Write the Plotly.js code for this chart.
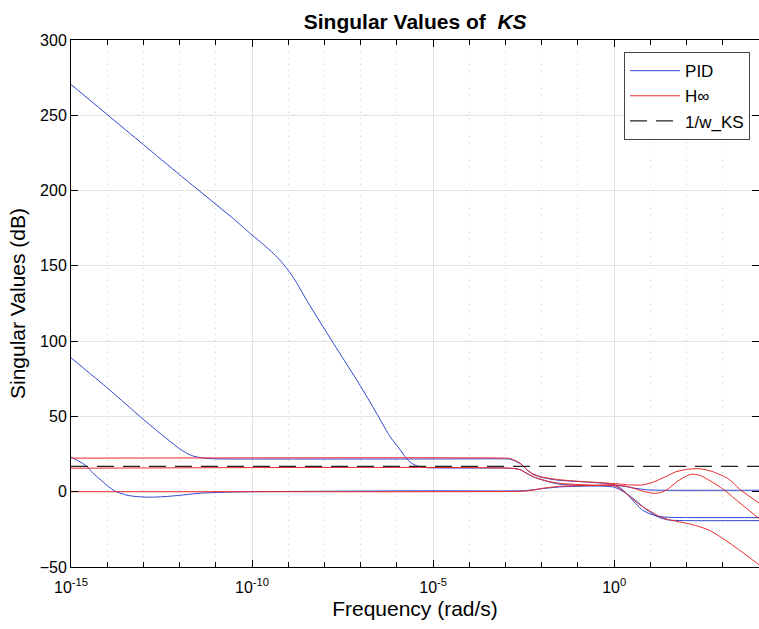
<!DOCTYPE html>
<html>
<head>
<meta charset="utf-8">
<script src="https://cdn.plot.ly/plotly-3.0.1.min.js"></script>
<style>html,body{margin:0;padding:0;background:#fff;}#chart{width:759px;height:629px;}</style>
</head>
<body>
<div id="chart"></div>
<script>
// log10(frequency) and singular values (dB)
const pid1LogW = [-15,-14,-13,-12,-11.44,-10.5,-10,-9.7,-9.4,-9.2,-9.0,-8.8,-8.5,-8,-7.5,-7,-6.5,-6.2,-5.9,-5.75,-5.6,-5.45,-5.25,-5,-3,-2.8,-2.6,-2.4,-2.2,-2.05,-1.8,-1.5,-1,-0.4,0,0.3,0.6,0.9,1.24,1.5,2,4];
const pid1Db   = [270.5,250.5,230.5,210.5,199.5,181,170.5,164.5,158,153,147,140,127.5,108,89,70,49.5,37,27.5,22.5,19,17.2,16.1,15.8,15.7,15.5,14.7,12,9.5,8.3,6.5,5,4.3,3.9,3,-0.5,-6,-12,-17,-18.8,-19.2,-19.2];

const pid2LogW = [-15,-14.5,-14,-13.5,-13,-12.5,-12,-11.8,-11.6,-11.3,-11,-9,-6,-4,-3,-2.86,-2.6,-2.4,-2.24,-2,-1.6,-1.2,-0.87,-0.4,-0.05,0.2,0.41,0.6,0.8,0.97,1.2,1.5,2,4];
const pid2Db   = [89,79,69,58.5,48,38,28.5,25.5,23.5,22.2,21.8,21.7,21.7,21.8,21.8,21.5,18.8,14.3,11.5,9.5,7.8,7,6.6,5.8,5,2,-3,-8,-12.5,-14.5,-16.3,-17,-17.2,-17.2];

const pid3LogW = [-15,-14.8,-14.57,-14.4,-14.2,-14,-13.79,-13.46,-13.2,-12.9,-12.6,-12.27,-12,-11.44,-10.7,-10,-8,-5,-3,-2.42,-2,-1.5,-1,-0.4,0,0.3,0.6,0.9,1.2,4];
const pid3Db   = [23,20.5,17,12.5,8.3,4,0.5,-2.3,-3.2,-3.6,-3.5,-3,-2.4,-1,-0.3,0,0.3,0.6,0.5,0.8,2,3.2,3.6,3.9,4.2,3.5,2.2,1.3,1,1];

const hinf1LogW = [-15,-3,-2.86,-2.6,-2.4,-2.24,-2,-1.6,-1.2,-0.9,-0.5,0,0.4,0.75,1.05,1.4,1.7,2,2.35,2.7,3,3.17,3.5,4];
const hinf1Db   = [22.3,22.3,22,19,14.5,11.8,9.8,8.2,7.3,6.8,6.2,5.4,4.6,4.4,6.1,9.8,13.2,14.8,15.3,13.5,10.5,8.3,1,-7.5];

const hinf2LogW = [-15,-2.8,-2.6,-2.4,-2.2,-2.05,-1.8,-1.5,-1.33,-1,-0.5,0,0.2,0.41,0.7,1,1.24,1.5,1.8,2.07,2.3,2.62,2.9,3.17,3.5,4];
const hinf2Db   = [15.6,15.5,14.6,12,9.6,8.4,6.8,5.5,5.2,4.8,4.3,4,1.5,-2.8,-8.5,-13,-16.3,-18.5,-20,-21.3,-22.8,-25.5,-29.5,-33.8,-39.5,-48.5];

const hinf3LogW = [-15,-3,-2.6,-2.42,-2.2,-2,-1.5,-1,-0.5,0,0.3,0.6,0.85,1.1,1.3,1.5,1.75,2,2.15,2.35,2.6,2.9,3.05,3.3,3.6,4];
const hinf3Db   = [0,0.1,0.3,0.5,1.2,2.2,3.6,4,4.2,4.6,3.8,1.8,0,-1.1,-0.5,2,7,10.5,11.6,11,8,3.5,1,-4,-10,-17.8];

const boundLogW = [-15,4];
const boundDb   = [16.8,16.8];

const xTickLogs  = [-15,-10,-5,0];
const xTickText  = ['10<sup>-15</sup>','10<sup>-10</sup>','10<sup>-5</sup>','10<sup>0</sup>'];
const xMinorLogs = [-15,-14,-13,-12,-11,-10,-9,-8,-7,-6,-5,-4,-3,-2,-1,0,1,2,3,4];

const toFreq = a => a.map(v => Math.pow(10, v));

const blue = 'rgb(45,70,210)';
const red = 'rgb(235,40,40)';
const font = 'Liberation Sans, Arial, Helvetica, sans-serif';

function tr(lw, db, color, name, show, group, dash) {
  return {x: toFreq(lw), y: db, type: 'scatter', mode: 'lines', name: name,
    legendgroup: group, showlegend: show,
    line: {color: color, width: dash ? 1.3 : 1, dash: dash || 'solid', shape: dash ? 'linear' : 'spline', smoothing: 0.6}};
}

const data = [
  tr(pid1LogW, pid1Db, blue, 'PID', true, 'pid'),
  tr(pid2LogW, pid2Db, blue, 'PID', false, 'pid'),
  tr(pid3LogW, pid3Db, blue, 'PID', false, 'pid'),
  tr(hinf1LogW, hinf1Db, red, 'H\u221E', true, 'hinf'),
  tr(hinf2LogW, hinf2Db, red, 'H\u221E', false, 'hinf'),
  tr(hinf3LogW, hinf3Db, red, 'H\u221E', false, 'hinf'),
  tr(boundLogW, boundDb, '#222', '1/w_KS', true, 'bound', '17px,9px')
];

const layout = {
  width: 759, height: 629,
  margin: {l: 71, r: 0, t: 40, b: 62},
  paper_bgcolor: '#fff', plot_bgcolor: '#fff',
  font: {family: font, color: '#000', size: 15},
  title: {text: '<b>Singular Values of  <i>KS</i></b>', x: 0.547, xanchor: 'center', y: 0.966, yanchor: 'middle', font: {size: 21, family: font}},
  xaxis: {
    type: 'log', range: [-15, 4],
    tickmode: 'array', tickvals: toFreq(xTickLogs), ticktext: xTickText,
    ticks: 'inside', ticklen: 7, tickcolor: '#000', tickwidth: 1,
    ticklabelstandoff: 6,
    showline: true, linecolor: '#000', linewidth: 1, mirror: 'ticks',
    showgrid: true, gridcolor: '#e3e3e3', gridwidth: 1,
    zeroline: false,
    minor: {tickmode: 'array', tickvals: toFreq(xMinorLogs), ticks: 'inside', ticklen: 5, tickcolor: '#000', showgrid: true, gridcolor: '#cfcfcf', griddash: '1px,5px', gridwidth: 1},
    tickfont: {size: 16},
    title: {text: 'Frequency (rad/s)', font: {size: 21}, standoff: 6}
  },
  yaxis: {
    range: [-50, 300], dtick: 50, tick0: 0,
    ticks: 'inside', ticklen: 7, tickcolor: '#000',
    showline: true, linecolor: '#000', linewidth: 1, mirror: 'ticks',
    showgrid: true, gridcolor: '#e3e3e3', zeroline: false,
    tickfont: {size: 16},
    title: {text: 'Singular Values (dB)', font: {size: 21}, standoff: 8}
  },
  legend: {
    x: 0.987, xanchor: 'right', y: 0.977, yanchor: 'top',
    bgcolor: '#fff', bordercolor: '#444', borderwidth: 1,
    font: {size: 17, family: font}, itemwidth: 50, tracegroupgap: 0
  },
  showlegend: true
};

Plotly.newPlot('chart', data, layout, {displayModeBar: false, staticPlot: true});
</script>
</body>
</html>
